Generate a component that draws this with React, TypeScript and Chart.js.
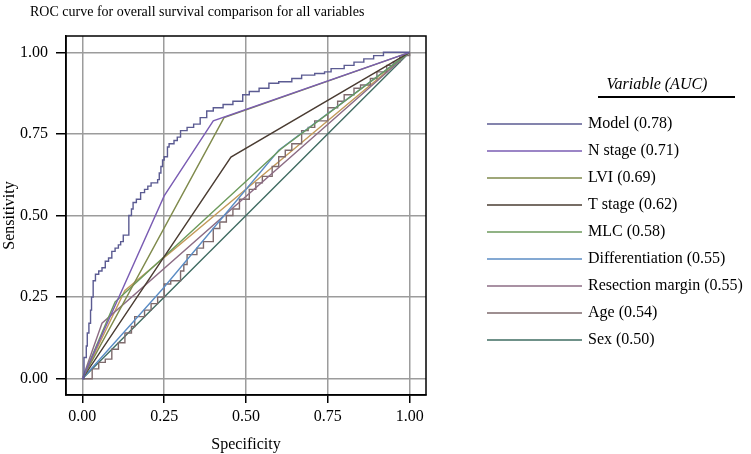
import React, { useEffect, useRef } from "react";
import { Chart, registerables } from "chart.js";

Chart.register(...registerables);

const chartTitle = "ROC curve for overall survival comparison for all variables";
const legendTitle = "Variable (AUC)";
const xAxisTitle = "Specificity";
const yAxisTitle = "Sensitivity";
const tickValues = [0, 0.25, 0.5, 0.75, 1];

const seriesLabels = [
  "Model (0.78)",
  "N stage (0.71)",
  "LVI (0.69)",
  "T stage (0.62)",
  "MLC (0.58)",
  "Differentiation (0.55)",
  "Resection margin (0.55)",
  "Age (0.54)",
  "Sex (0.50)",
  "",
];

const modelX = [0, 0.005, 0.012, 0.015, 0.02, 0.025, 0.028, 0.033, 0.04, 0.05, 0.06, 0.07, 0.08, 0.09, 0.10, 0.11, 0.117, 0.125, 0.142, 0.142, 0.15, 0.155, 0.165, 0.178, 0.19, 0.20, 0.21, 0.23, 0.235, 0.24, 0.245, 0.25, 0.26, 0.265, 0.28, 0.29, 0.30, 0.32, 0.34, 0.36, 0.38, 0.40, 0.43, 0.46, 0.49, 0.51, 0.54, 0.57, 0.60, 0.64, 0.67, 0.71, 0.74, 0.76, 0.80, 0.83, 0.86, 0.89, 0.92, 1.0];
const modelY = [0, 0.065, 0.10, 0.14, 0.17, 0.21, 0.25, 0.30, 0.32, 0.33, 0.34, 0.36, 0.37, 0.39, 0.40, 0.41, 0.42, 0.44, 0.45, 0.50, 0.52, 0.54, 0.55, 0.57, 0.58, 0.59, 0.60, 0.61, 0.63, 0.65, 0.67, 0.68, 0.71, 0.72, 0.73, 0.74, 0.76, 0.77, 0.78, 0.80, 0.82, 0.83, 0.84, 0.85, 0.87, 0.88, 0.89, 0.905, 0.91, 0.92, 0.93, 0.935, 0.94, 0.95, 0.96, 0.97, 0.98, 0.99, 1.0, 1.0];

const nStageX = [0, 0.25, 0.40, 1];
const nStageY = [0, 0.56, 0.79, 1];

const lviX = [0, 0.433, 1];
const lviY = [0, 0.80, 1];

const tStageX = [0, 0.454, 1];
const tStageY = [0, 0.679, 1];

const mlcX = [0, 0.10, 0.607, 1];
const mlcY = [0, 0.235, 0.704, 1];

const diffX = [0, 0.245, 0.60, 1];
const diffY = [0, 0.275, 0.70, 1];

const resectionX = [0, 0.06, 1];
const resectionY = [0, 0.17, 1];

const ageX = [0, 0.03, 0.05, 0.07, 0.09, 0.11, 0.13, 0.15, 0.16, 0.19, 0.21, 0.23, 0.25, 0.27, 0.30, 0.31, 0.32, 0.35, 0.37, 0.40, 0.42, 0.44, 0.46, 0.48, 0.51, 0.53, 0.55, 0.58, 0.60, 0.62, 0.64, 0.67, 0.69, 0.71, 0.75, 0.78, 0.80, 0.83, 0.85, 0.88, 0.90, 0.93, 0.95, 0.97, 1.0];
const ageY = [0, 0.03, 0.05, 0.06, 0.09, 0.11, 0.14, 0.16, 0.19, 0.21, 0.23, 0.25, 0.29, 0.30, 0.33, 0.35, 0.38, 0.40, 0.42, 0.46, 0.48, 0.50, 0.52, 0.55, 0.58, 0.60, 0.62, 0.65, 0.68, 0.70, 0.72, 0.76, 0.77, 0.79, 0.83, 0.85, 0.87, 0.89, 0.90, 0.92, 0.94, 0.96, 0.97, 0.99, 1.0];

const sexX = [0, 1];
const sexY = [0, 1];

const otherX = [0, 0.13, 1];
const otherY = [0, 0.27, 1];

const seriesX = [modelX, nStageX, lviX, tStageX, mlcX, diffX, resectionX, ageX, sexX, otherX];
const seriesY = [modelY, nStageY, lviY, tStageY, mlcY, diffY, resectionY, ageY, sexY, otherY];
const seriesStepped = [true, false, false, false, false, false, false, true, false, false];
const seriesColors = [
  "#5b5b92",
  "#7a5cb3",
  "#7f8a4c",
  "#4a3c32",
  "#6c9a5c",
  "#5b8cc4",
  "#8c6c84",
  "#7e6a6c",
  "#3f6c62",
  "#c39a5a",
];

const FONT = "'Liberation Serif', 'Times New Roman', serif";

export default function App() {
  const ref = useRef<HTMLCanvasElement | null>(null);

  useEffect(() => {
    if (!ref.current) return;
    Chart.defaults.font.family = FONT;
    Chart.defaults.color = "#000";

    const decor = {
      id: "decor",
      afterDraw(chart: any) {
        const { ctx, chartArea } = chart;
        ctx.save();
        // plot frame
        ctx.strokeStyle = "#000";
        ctx.lineWidth = 1.5;
        ctx.strokeRect(chartArea.left, chartArea.top, chartArea.right - chartArea.left, chartArea.bottom - chartArea.top);
        // main title
        ctx.fillStyle = "#000";
        ctx.textBaseline = "middle";
        ctx.textAlign = "left";
        ctx.font = `14px ${FONT}`;
        ctx.fillText(chartTitle, 30, 12);
        // legend title + underline
        ctx.font = `italic 16px ${FONT}`;
        ctx.textAlign = "center";
        ctx.fillText(legendTitle, 657, 85);
        ctx.lineWidth = 2;
        ctx.beginPath();
        ctx.moveTo(598, 97);
        ctx.lineTo(735, 97);
        ctx.stroke();
        // legend entries
        ctx.font = `16px ${FONT}`;
        ctx.textAlign = "left";
        let row = 0;
        chart.data.datasets.forEach((ds: any) => {
          if (!ds.label) return;
          const y = 124 + row * 27;
          ctx.strokeStyle = ds.borderColor;
          ctx.lineWidth = 1.5;
          ctx.beginPath();
          ctx.moveTo(487, y);
          ctx.lineTo(582, y);
          ctx.stroke();
          ctx.fillStyle = "#000";
          ctx.fillText(ds.label, 588, y);
          row++;
        });
        ctx.restore();
      },
    };

    const datasets = seriesX.map((xs, i) => ({
      label: seriesLabels[i],
      data: xs.map((x, j) => ({ x, y: seriesY[i][j] })),
      borderColor: seriesColors[i],
      backgroundColor: seriesColors[i],
      borderWidth: 1.4,
      pointRadius: 0,
      fill: false,
      tension: 0,
      stepped: seriesStepped[i] ? "before" : false,
    }));

    const chart = new Chart(ref.current, {
      type: "line",
      data: { datasets },
      plugins: [decor],
      options: {
        animation: false,
        responsive: false,
        devicePixelRatio: 1,
        layout: { padding: { top: 36, bottom: 0, left: 0, right: 325 } },
        plugins: {
          title: { display: false },
          tooltip: { enabled: false },
          legend: { display: false },
        },
        scales: {
          x: {
            type: "linear",
            min: -0.05,
            max: 1.05,
            afterBuildTicks: (s: any) => {
              s.ticks = tickValues.map((v) => ({ value: v }));
            },
            afterFit: (s: any) => {
              s.height = 59;
            },
            ticks: {
              font: { size: 16, family: FONT },
              color: "#000",
              padding: 4,
              maxRotation: 0,
              autoSkip: false,
              callback: (v: any) => Number(v).toFixed(2),
            },
            grid: { color: "#9c9c9c", lineWidth: 1.5, tickColor: "#000", tickLength: 8, tickWidth: 1.5 },
            border: { display: true, color: "#000", width: 1.5 },
            title: { display: true, text: xAxisTitle, font: { size: 16, family: FONT }, color: "#000", padding: { top: 4, bottom: 0 } },
          },
          y: {
            type: "linear",
            min: -0.05,
            max: 1.05,
            afterBuildTicks: (s: any) => {
              s.ticks = tickValues.map((v) => ({ value: v }));
            },
            afterFit: (s: any) => {
              s.width = 66;
            },
            ticks: {
              font: { size: 16, family: FONT },
              color: "#000",
              padding: 8,
              autoSkip: false,
              callback: (v: any) => Number(v).toFixed(2),
            },
            grid: { color: "#9c9c9c", lineWidth: 1.5, tickColor: "#000", tickLength: 10, tickWidth: 1.5 },
            border: { display: true, color: "#000", width: 1.5 },
            title: { display: true, text: yAxisTitle, font: { size: 16, family: FONT }, color: "#000", padding: { top: 0, bottom: 0 } },
          },
        },
      } as any,
    });
    return () => chart.destroy();
  }, []);

  return (
    <div style={{ position: "absolute", left: 0, top: 0, width: 751, height: 454, background: "#fff" }}>
      <canvas ref={ref} width={751} height={454} style={{ display: "block" }} />
    </div>
  );
}
